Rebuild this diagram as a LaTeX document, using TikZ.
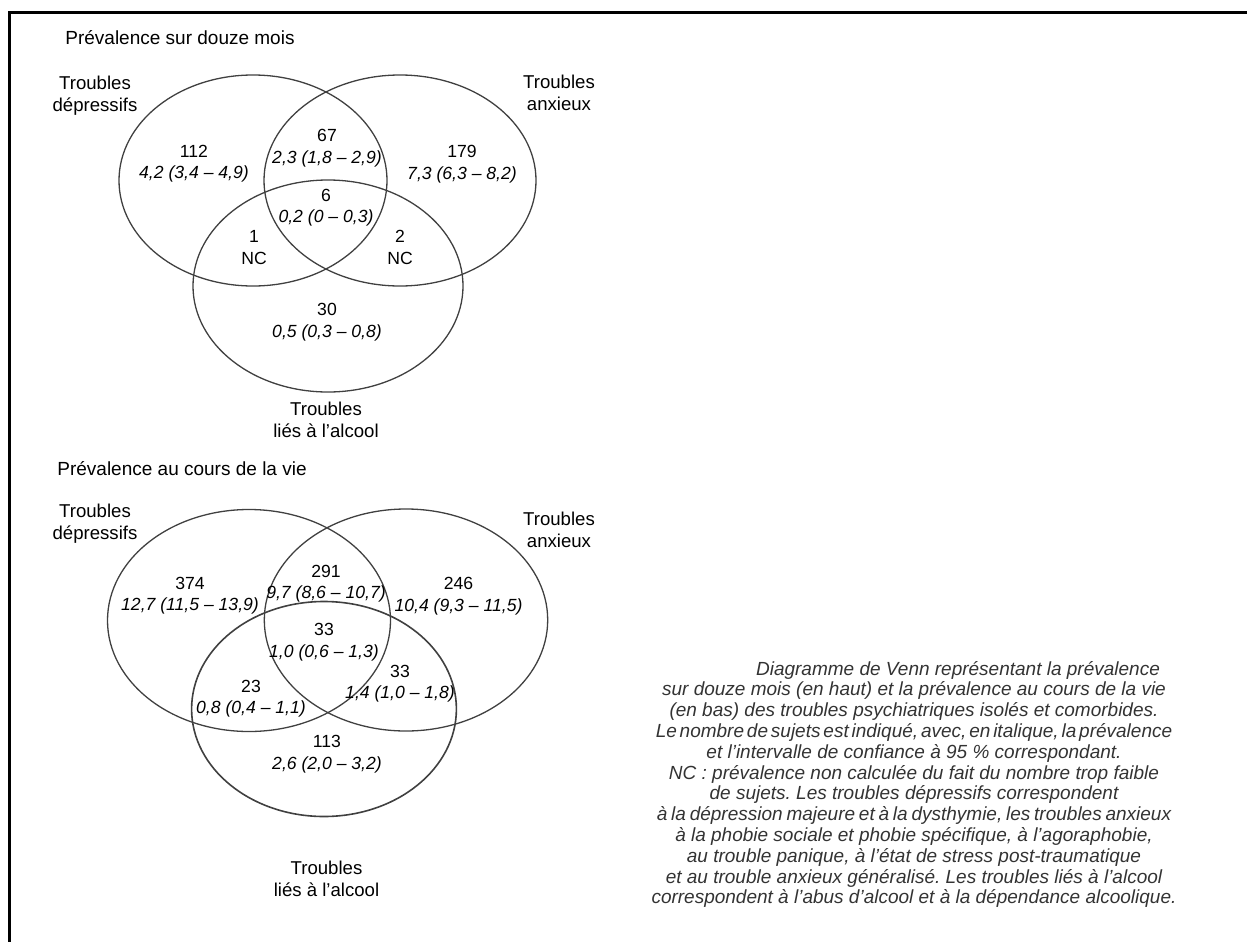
\documentclass[tikz,border=0pt]{standalone}
\usepackage{fontspec}
\setmainfont{Liberation Sans}
\frenchspacing

\begin{document}
\begin{tikzpicture}[
  x = 0.5pt,
  y = -0.5pt,
  set/.style = {
    draw = black!75,
    line width = 0.65pt
  },
  heading/.style = {
    anchor = west,
    inner sep = 0pt,
    font = \fontsize{9.5}{11}\selectfont
  },
  setname/.style = {
    align = center,
    inner sep = 0pt,
    font = \fontsize{9.3}{11}\selectfont
  },
  cell/.style = {
    align = center,
    inner sep = 0pt,
    font = \fontsize{8.8}{10.75}\selectfont
  },
  caption/.style = {
    align = center,
    inner sep = 0pt,
    text = black!80,
    font = \fontsize{9.5}{10.4}\selectfont\itshape
  }
]
  \useasboundingbox (0, 0) rectangle (1247, 942);
  \draw[line width = 1.25pt] (1247, 12.5) -| (9.5, 942);

  \draw node[heading] (Ttitle) at (65, 37.5) {Prévalence sur douze mois};

  \draw[set] (253, 180.5) ellipse (67pt and 52.75pt);
  \draw[set] (400, 180.5) ellipse (68pt and 52.75pt);
  \draw[set] (328, 286) ellipse (67.5pt and 53pt);

  \draw node[setname] (TD) at (95, 96) {Troubles\\dépressifs};
  \draw node[setname] (TA) at (559, 93) {Troubles\\anxieux};
  \draw node[setname] (TL) at (326, 420) {Troubles\\liés à l’alcool};

  \draw node[cell] (T112) at (194, 163.5) {112\\\textit{4,2 (3,4 – 4,9)}};
  \draw node[cell] (T67) at (327, 148) {67\\\textit{2,3 (1,8 – 2,9)}};
  \draw node[cell] (T179) at (462, 164) {179\\\textit{7,3 (6,3 – 8,2)}};
  \draw node[cell] (T6) at (326, 207.5) {6\\\textit{0,2 (0 – 0,3)}};
  \draw node[cell] (T1) at (254, 247.5) {1\\NC};
  \draw node[cell] (T2) at (400, 247.5) {2\\NC};
  \draw node[cell] (T30) at (327, 322) {30\\\textit{0,5 (0,3 – 0,8)}};

  \draw node[heading] (Vtitle) at (57, 469) {Prévalence au cours de la vie};

  \draw[set] (249, 620.5) ellipse (70.75pt and 55.5pt);
  \draw[set] (406, 620) ellipse (70.85pt and 55.5pt);
  \draw[set, line width = 0.8pt] (324, 709) ellipse (66.2pt and 53.75pt);

  \draw node[setname] (VD) at (95, 523.5) {Troubles\\dépressifs};
  \draw node[setname] (VA) at (559, 529.5) {Troubles\\anxieux};
  \draw node[setname] (VL) at (326.5, 879) {Troubles\\liés à l’alcool};

  \draw node[cell] (V374) at (190, 595.5) {374\\\textit{12,7 (11,5 – 13,9)}};
  \draw node[cell] (V291) at (326, 583.5) {291\\\textit{9,7 (8,6 – 10,7)}};
  \draw node[cell] (V246) at (458.5, 596) {246\\\textit{10,4 (9,3 – 11,5)}};
  \draw node[cell] (V33c) at (324, 642) {33\\\textit{1,0 (0,6 – 1,3)}};
  \draw node[cell] (V33r) at (400, 683.5) {33\\\textit{1,4 (1,0 – 1,8)}};
  \draw node[cell] (V23) at (251, 698.5) {23\\\textit{0,8 (0,4 – 1,1)}};
  \draw node[cell] (V113) at (327, 754) {113\\\textit{2,6 (2,0 – 3,2)}};

  \draw node[caption] (legend) at (914, 784.5) {%
    \hspace*{44pt}Diagramme de Venn représentant la prévalence\\
    sur douze mois (en haut) et la prévalence au cours de la vie\\
    (en bas) des troubles psychiatriques isolés et comorbides.\\
    {\spaceskip = 0.15em Le nombre de sujets est indiqué, avec, en italique, la prévalence}\\
    et l’intervalle de confiance à 95 \% correspondant.\\
    NC : prévalence non calculée du fait du nombre trop faible\\
    de sujets. Les troubles dépressifs correspondent\\
    {\spaceskip = 0.2em à la dépression majeure et à la dysthymie, les troubles anxieux}\\
    à la phobie sociale et phobie spécifique, à l’agoraphobie,\\
    au trouble panique, à l’état de stress post-traumatique\\
    et au trouble anxieux généralisé. Les troubles liés à l’alcool\\
    correspondent à l’abus d’alcool et à la dépendance alcoolique.};
\end{tikzpicture}
\end{document}
